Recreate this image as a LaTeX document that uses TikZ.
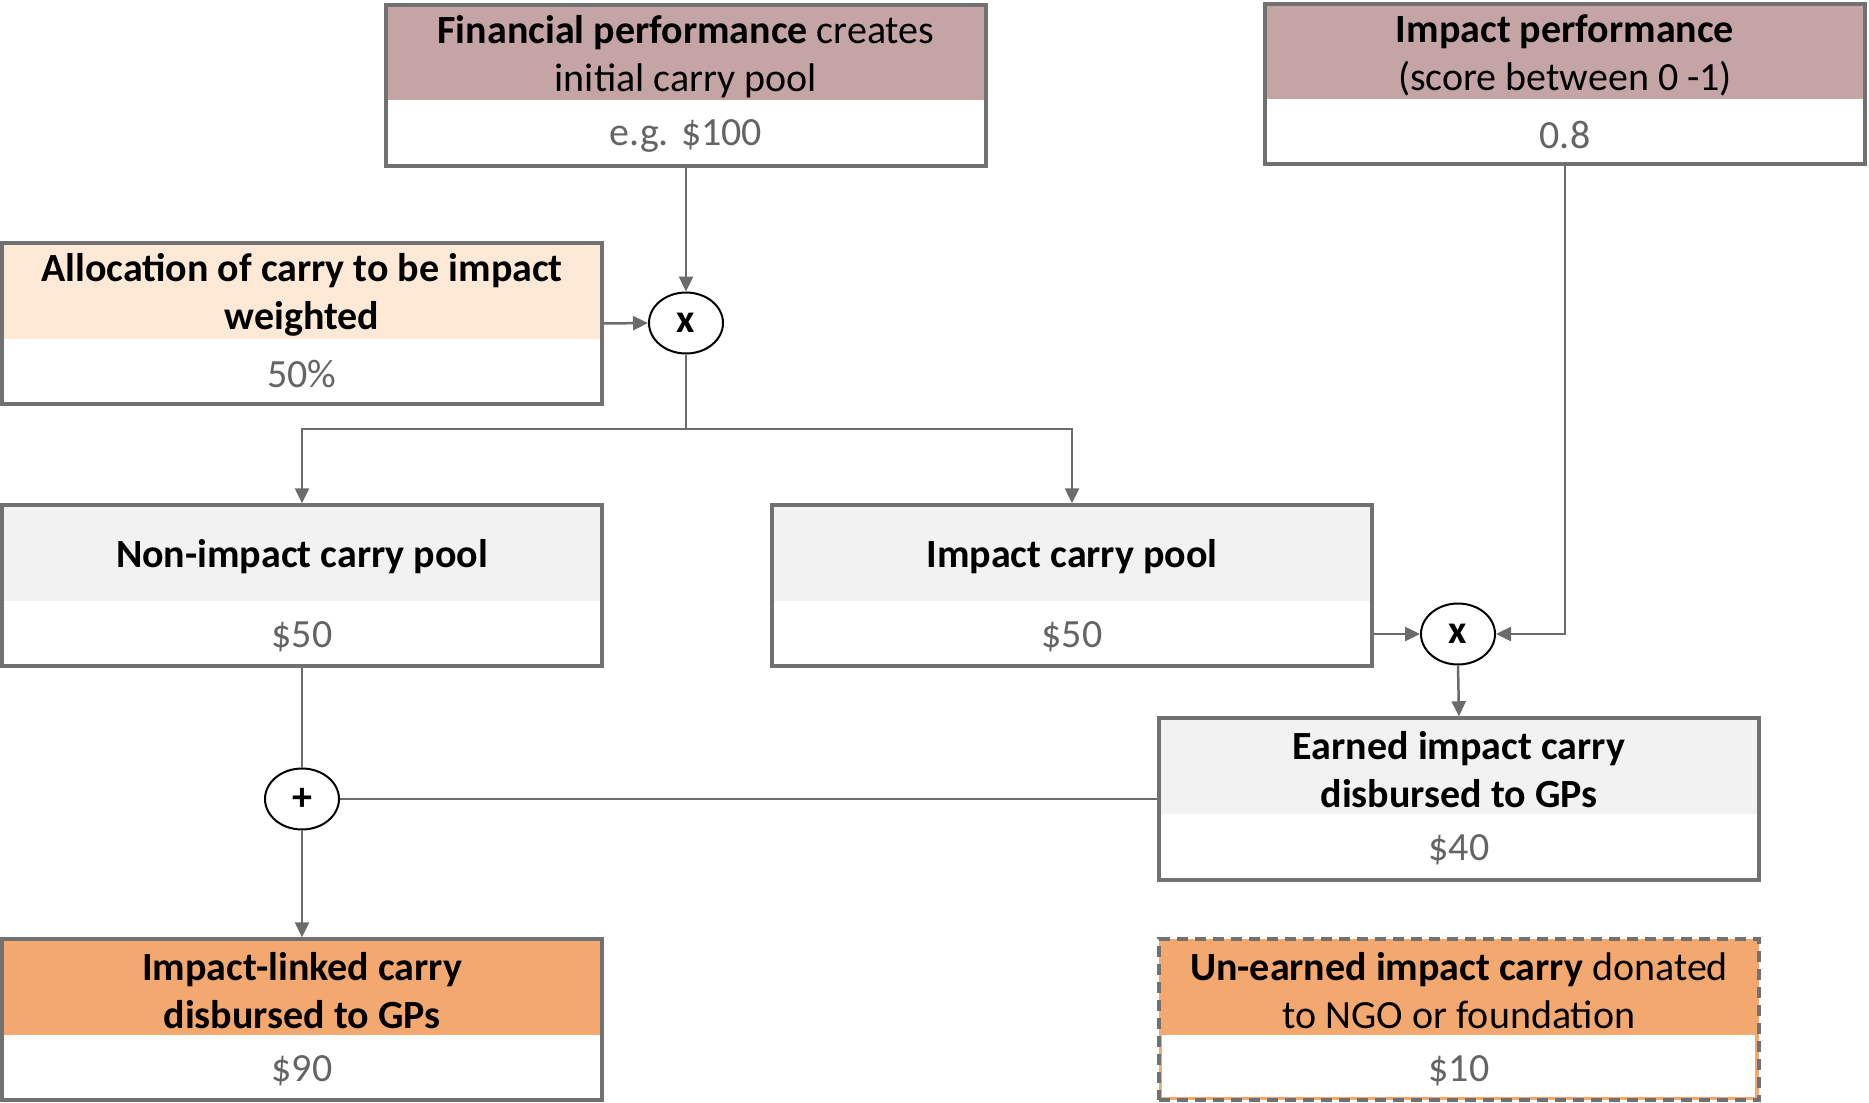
\documentclass[tikz,border=0pt]{standalone}
\usepackage{fontspec}
\setmainfont{Carlito}
\usetikzlibrary{arrows.meta,shapes.geometric}
\definecolor{mauve}{RGB}{196,164,165}
\definecolor{peach}{RGB}{253,233,213}
\definecolor{lgray}{RGB}{242,242,242}
\definecolor{orng}{RGB}{243,168,112}
\definecolor{frame}{RGB}{113,113,113}
\definecolor{conn}{RGB}{107,107,107}
\definecolor{valgray}{RGB}{100,100,100}
\newcommand\mkbox[9]{%
  \fill[#6] (#2,#3) rectangle ({#2+600},#5);
  \node[hdrtext] (#1h) at ({#2+300},{(#3+#5)/2+4}) {#7};
  \node[valtext] (#1v) at ({#2+300},{(#5+#4)/2+3}) {#8};
  \node[boxframe,#9,minimum width=600pt,minimum height={(#4-#3)*1pt}] (#1) at ({#2+300},{(#3+#4)/2}) {};
}
\begin{document}
\begin{tikzpicture}[x=1pt,y=-1pt,
  hdrtext/.style={align=center,inner sep=0pt,font=\fontsize{40}{48}\selectfont,text=black},
  valtext/.style={align=center,inner sep=0pt,font=\fontsize{40}{48}\selectfont,text=valgray},
  boxframe/.style={draw=frame,line width=3.5pt,rectangle,inner sep=0pt},
  op/.style={ellipse,draw=black,line width=2pt,fill=white,minimum width=74pt,minimum height=61pt,inner sep=0pt,font=\fontsize{40}{40}\selectfont\bfseries},
  link/.style={draw=conn,line width=2.5pt},
  arr/.style={link,-{Triangle[length=15pt,width=14pt]}}]
\useasboundingbox[fill=white] (0,0) rectangle (1869,1103);
% boxes
\mkbox{fin}{386}{5}{166}{100}{mauve}{\textbf{Financial performance} creates\\initial carry pool}{e.g. \$100}{}
\mkbox{perf}{1265}{4}{164}{99}{mauve}{\textbf{Impact performance}\\(score between 0 -1)}{0.8}{}
\mkbox{alloc}{2}{243}{404}{339}{peach}{\textbf{Allocation of carry to be impact}\\\textbf{weighted}}{50\%}{}
\mkbox{nonimp}{2}{505}{666}{601}{lgray}{\textbf{Non-impact carry pool}}{\$50}{}
\mkbox{pool}{772}{505}{666}{601}{lgray}{\textbf{Impact carry pool}}{\$50}{}
\mkbox{earned}{1159}{718}{880}{814}{lgray}{\textbf{Earned impact carry}\\\textbf{disbursed to GPs}}{\$40}{}
\mkbox{linked}{2}{939}{1100}{1035}{orng}{\textbf{Impact-linked carry}\\\textbf{disbursed to GPs}}{\$90}{}
% un-earned box
\fill[orng] (1159,939) rectangle (1759,1100);
\fill[white] (1162,1035) rectangle (1755,1097);
\mkbox{unearned}{1159}{939}{1100}{1035}{orng}{\textbf{Un-earned impact carry} donated\\to NGO or foundation}{\$10}{line width=4pt,dash pattern=on 11pt off 7pt}
% operators
\node[op] (m1) at (686,323) {x};
\node[op] (m2) at (1458,634) {x};
\node[op] (plus) at (302,799) {+};
\coordinate (j) at (686,429);
% connectors
\draw[arr] (fin.south) -- (m1.north);
\draw[arr] (alloc.east) -- (m1.west);
\draw[link] (m1.south) -- (j);
\draw[arr] (j) -| (nonimp.north);
\draw[arr] (j) -| (pool.north);
\draw[arr] (pool.east |- m2.west) -- (m2.west);
\draw[arr] (perf.south) |- (m2.east);
\draw[arr] (m2.south) -- (earned.north);
\draw[link] (nonimp.south) -- (plus.north);
\draw[link] (earned.west) -- (plus.east);
\draw[arr] (plus.south) -- (linked.north);
\end{tikzpicture}
\end{document}
